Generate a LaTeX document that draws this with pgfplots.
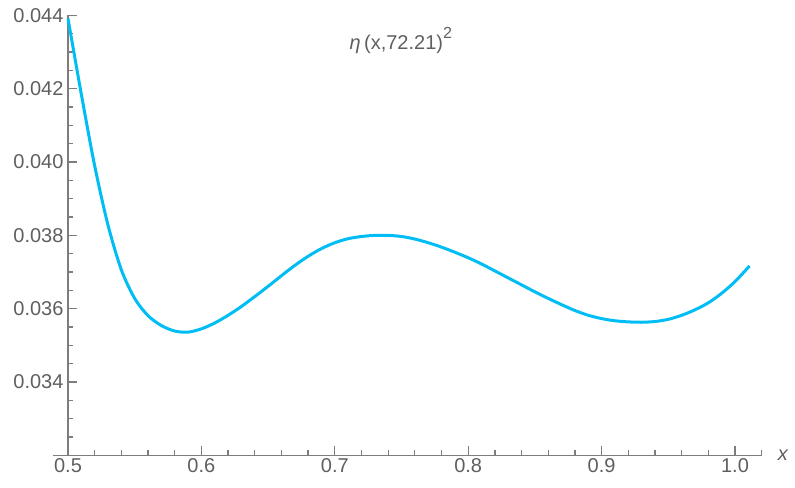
\documentclass[border=0pt]{standalone}
\usepackage{fontspec}
\setmainfont{Liberation Sans}
\usepackage{pgfplots}
\pgfplotsset{compat=1.18}
\definecolor{curve}{RGB}{0,190,245}
\definecolor{axgray}{RGB}{125,125,125}
\definecolor{txtgray}{RGB}{95,95,95}
\begin{document}
\begin{tikzpicture}
\begin{axis}[
  scale only axis, width=693.7pt, height=439.8pt,
  xmin=0.5, xmax=1.02, ymin=0.032, ymax=0.044,
  axis x line=bottom, axis y line=left,
  axis line style={axgray, line width=1.3pt, -},
  xtick={0.5,0.6,0.7,0.8,0.9,1.0},
  xticklabels={0.5,0.6,0.7,0.8,0.9,1.0},
  ytick={0.034,0.036,0.038,0.040,0.042,0.044},
  yticklabels={0.034,0.036,0.038,0.040,0.042,0.044},
  minor xtick={0.52,0.54,0.56,0.58,0.62,0.64,0.66,0.68,0.72,0.74,0.76,0.78,0.82,0.84,0.86,0.88,0.92,0.94,0.96,0.98,1.02},
  minor ytick={0.0325,0.033,0.0335,0.0345,0.035,0.0355,0.0365,0.037,0.0375,0.0385,0.039,0.0395,0.0405,0.041,0.0415,0.0425,0.043,0.0435},
  tick align=inside,
  major tick length=9pt, minor tick length=5.5pt,
  every tick/.style={axgray, line width=1.3pt},
  ticklabel style={font=\fontsize{20}{24}\selectfont, text=txtgray},
  yticklabel style={xshift=-1pt},
  /pgf/number format/assume math mode=true,
  scaled y ticks=false, scaled x ticks=false,
  clip=false,
]
\path (axis cs:0.44903,0.031108) rectangle (axis cs:1.04498,0.044423);
\draw[axgray, line width=1.3pt] (axis cs:0.4888,0.032) -- (axis cs:0.5,0.032);
\addplot[curve, line width=3pt, smooth] coordinates {
(0.50, 0.04392)
(0.51, 0.04185)
(0.52, 0.03990)
(0.53, 0.03828)
(0.54, 0.03706)
(0.55, 0.03628)
(0.56, 0.03581)
(0.57, 0.03554)
(0.58, 0.03539)
(0.59, 0.03536)
(0.60, 0.03545)
(0.61, 0.03561)
(0.62, 0.03582)
(0.63, 0.03606)
(0.64, 0.03633)
(0.65, 0.03661)
(0.66, 0.03690)
(0.67, 0.03718)
(0.68, 0.03743)
(0.69, 0.03764)
(0.70, 0.03780)
(0.71, 0.03791)
(0.72, 0.03797)
(0.73, 0.03800)
(0.74, 0.03800)
(0.75, 0.03797)
(0.76, 0.03790)
(0.77, 0.03780)
(0.78, 0.03768)
(0.79, 0.03754)
(0.80, 0.03739)
(0.81, 0.03722)
(0.82, 0.03703)
(0.83, 0.03684)
(0.84, 0.03665)
(0.85, 0.03646)
(0.86, 0.03628)
(0.87, 0.03611)
(0.88, 0.03595)
(0.89, 0.03582)
(0.90, 0.03573)
(0.91, 0.03567)
(0.92, 0.03564)
(0.93, 0.03563)
(0.94, 0.03565)
(0.95, 0.03571)
(0.96, 0.03582)
(0.97, 0.03597)
(0.98, 0.03616)
(0.99, 0.03642)
(1.00, 0.03674)
(1.01, 0.03713)
(1.0107, 0.03716)
};
\node[text=txtgray, font=\fontsize{20}{24}\selectfont, inner sep=0pt, anchor=west] at (axis cs:1.02,0.032) [xshift=16pt] {\textit{x}};
\node[text=txtgray, font=\fontsize{20}{24}\selectfont, inner sep=0pt] at (axis cs:0.7495,0.04333) {\textit{η}\,(x,72.21)\raisebox{0.55em}{\fontsize{16}{16}\selectfont 2}};
\end{axis}
\end{tikzpicture}
\end{document}
